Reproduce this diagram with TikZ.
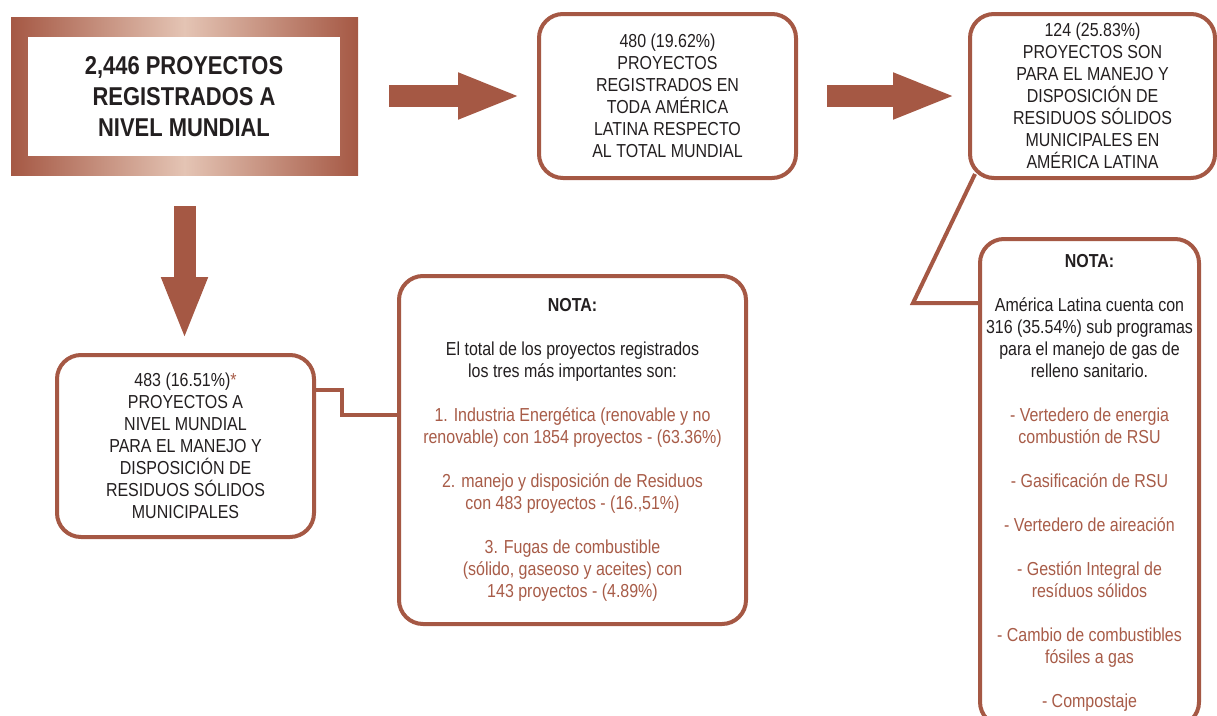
\documentclass[tikz,border=0pt]{standalone}
\usepackage{fontspec}
\setmainfont{Liberation Sans}[FakeStretch=0.85]
\usepackage{xcolor}
\definecolor{rsbrown}{RGB}{165,88,68}
\definecolor{rslight}{RGB}{228,196,180}
\definecolor{rstext}{RGB}{35,31,32}
\definecolor{rsitem}{RGB}{168,92,72}
\usetikzlibrary{arrows.meta, positioning}
\newcommand{\itm}[1]{\textcolor{rsitem}{#1}}

\begin{document}
\begin{tikzpicture}[x=1pt, y=-1pt,
  box/.style={draw=rsbrown, line width=4pt, rounded corners=24pt, fill=white,
    align=center, text=rstext, inner sep=0pt, font=\fontsize{18.8}{22}\selectfont},
  link/.style={draw=rsbrown, line width=4pt},
  bigarrow/.style={rsbrown, line width=22pt, -{Triangle[length=63pt, width=42pt]}}]

\useasboundingbox (0,0) rectangle (1217,715);
\clip (0,0) rectangle (1217,715);

% --- Total mundial ---
\node[left color=rsbrown, right color=rsbrown, middle color=rslight,
      minimum width=347, minimum height=158, inner sep=0pt] (frame) at (184.5,96) {};
\node[fill=white, minimum width=312, minimum height=119, inner sep=0pt, align=center,
      text=rstext, font=\fontsize{25.8}{31}\selectfont\bfseries] (total) at (184,96.5)
     {2,446 PROYECTOS\\REGISTRADOS A\\NIVEL MUNDIAL};

% --- America Latina ---
\node[box, minimum width=257, minimum height=164] (lat) at (667.5,96)
     {480 (19.62\%)\\PROYECTOS\\REGISTRADOS EN\\TODA AMÉRICA\\LATINA RESPECTO\\AL TOTAL MUNDIAL};

\node[box, minimum width=245, minimum height=164] (rsu) at (1092.5,96)
     {124 (25.83\%)\\PROYECTOS SON\\PARA EL MANEJO Y\\DISPOSICIÓN DE\\RESIDUOS SÓLIDOS\\MUNICIPALES EN\\AMÉRICA LATINA};

% --- Residuos a nivel mundial ---
\node[box, minimum width=257, minimum height=182] (mun) at (185.5,446)
     {483 (16.51\%)\itm{*}\\PROYECTOS A\\NIVEL MUNDIAL\\PARA EL MANEJO Y\\DISPOSICIÓN DE\\RESIDUOS SÓLIDOS\\MUNICIPALES};

% --- Notas ---
\node[box, minimum width=347, minimum height=348] (nota1) at (572.5,450)
     {\textbf{NOTA:}\\[22pt]
      El total de los proyectos registrados\\los tres más importantes son:\\[22pt]
      \itm{1. Industria Energética (renovable y no}\\\itm{renovable) con 1854 proyectos - (63.36\%)}\\[22pt]
      \itm{2. manejo y disposición de Residuos}\\\itm{con 483 proyectos - (16.,51\%)}\\[22pt]
      \itm{3. Fugas de combustible}\\\itm{(sólido, gaseoso y aceites) con}\\\itm{143 proyectos - (4.89\%)}};

\node[box, minimum width=219, minimum height=487] (nota2) at (1089.5,482.5)
     {\textbf{NOTA:}\\[22pt]
      América Latina cuenta con\\316 (35.54\%) sub programas\\para el manejo de gas de\\relleno sanitario.\\[22pt]
      \itm{- Vertedero de energia}\\\itm{combustión de RSU}\\[22pt]
      \itm{- Gasificación de RSU}\\[22pt]
      \itm{- Vertedero de aireación}\\[22pt]
      \itm{- Gestión Integral de}\\\itm{resíduos sólidos}\\[22pt]
      \itm{- Cambio de combustibles}\\\itm{fósiles a gas}\\[22pt]
      \itm{- Compostaje}};

% --- Flechas ---
\draw[bigarrow, shorten <=31pt, shorten >=16pt] (frame) -- (lat);
\draw[bigarrow, shorten <=29pt, shorten >=12pt] (lat) -- (rsu);
\draw[bigarrow, shorten <=31pt, shorten >=13pt] (frame) -- (frame.south |- mun.north);

% --- Conectores ---
\draw[link] ([yshift=56pt]mun.east) -- ++(26,0) |- (nota1.west |- 0,415);
\coordinate (kink) at (913,303);
\draw[link] ([shift={(7,-6)}]rsu.south west) -- (kink) -- (kink -| nota2.west);

\end{tikzpicture}
\end{document}
